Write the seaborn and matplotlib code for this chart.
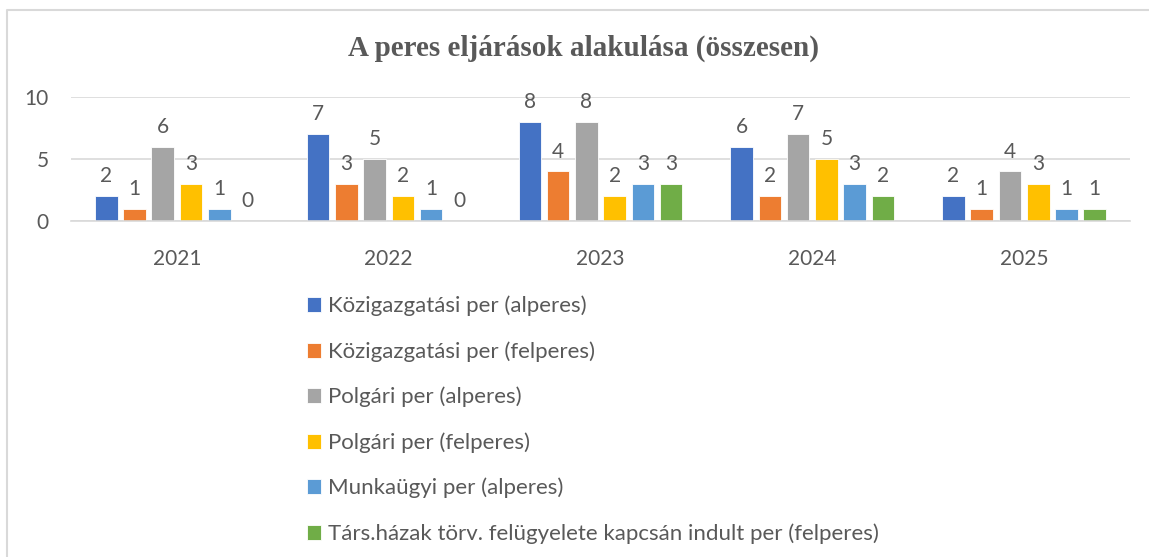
import pandas as pd
import matplotlib.pyplot as plt
import seaborn as sns
from matplotlib.lines import Line2D

# Chart data
years = ["2021", "2022", "2023", "2024", "2025"]
series = [
    "Közigazgatási per (alperes)",
    "Közigazgatási per (felperes)",
    "Polgári per (alperes)",
    "Polgári per (felperes)",
    "Munkaügyi per (alperes)",
    "Társ.házak törv. felügyelete kapcsán indult per (felperes)",
]
kozig_alperes = [2, 7, 8, 6, 2]
kozig_felperes = [1, 3, 4, 2, 1]
polgari_alperes = [6, 5, 8, 7, 4]
polgari_felperes = [3, 2, 2, 5, 3]
munkaugyi_alperes = [1, 1, 3, 3, 1]
tarshazak_felperes = [0, 0, 3, 2, 1]

colors = ["#4472C4", "#ED7D31", "#A5A5A5", "#FFC000", "#5B9BD5", "#70AD47"]
text_color = "#595959"

values = [kozig_alperes, kozig_felperes, polgari_alperes,
          polgari_felperes, munkaugyi_alperes, tarshazak_felperes]
rows = []
for name, vals in zip(series, values):
    for year, v in zip(years, vals):
        rows.append({"year": year, "series": name, "value": v})
df = pd.DataFrame(rows)

sns.set_style("white")
plt.rcParams["font.family"] = ["Lato", "DejaVu Sans"]

fig = plt.figure(figsize=(11.49, 5.57), dpi=100)
ax = fig.add_axes([71 / 1149, 1 - 221 / 557, (1130 - 71) / 1149, (221 - 97) / 557])

sns.barplot(data=df, x="year", y="value", hue="series", hue_order=series,
            order=years, palette=colors, width=0.8, gap=0.2, ax=ax,
            legend=True, saturation=1, edgecolor="white", linewidth=0.6)

for cont in ax.containers:
    ax.bar_label(cont, padding=7, fontsize=15, color=text_color)

ax.set_ylim(0, 10)
ax.set_yticks([0, 5, 10])
ax.yaxis.grid(True, color="#D9D9D9", linewidth=1.2)
ax.set_axisbelow(True)
for s in ["top", "right", "left"]:
    ax.spines[s].set_visible(False)
ax.spines["bottom"].set_color("#D9D9D9")
ax.spines["bottom"].set_linewidth(1.2)
ax.tick_params(axis="both", length=0, labelsize=15, labelcolor=text_color)
ax.tick_params(axis="x", pad=20)
ax.tick_params(axis="y", pad=16)
ax.set_xlabel("")
ax.set_ylabel("")

handles, labels = ax.get_legend_handles_labels()
ax.get_legend().remove()
leg = fig.legend(handles, labels, loc="upper left",
                 bbox_to_anchor=(298 / 1149, 1 - 287 / 557),
                 frameon=False, fontsize=16, labelcolor=text_color,
                 handlelength=0.65, handleheight=0.65, handletextpad=0.3,
                 labelspacing=1.12, borderaxespad=0)

fig.text(583 / 1149, 1 - 48 / 557, "A peres eljárások alakulása (összesen)",
         ha="center", va="center", fontsize=21, fontweight="bold",
         color=text_color, family="Liberation Serif")

# chart frame (top and left edges visible)
fig.lines.append(Line2D([7 / 1149, 7 / 1149, 1], [0, 1 - 10 / 557, 1 - 10 / 557],
                        transform=fig.transFigure, color="#D9D9D9", linewidth=1.5))

fig.savefig("out.png", dpi=100)
